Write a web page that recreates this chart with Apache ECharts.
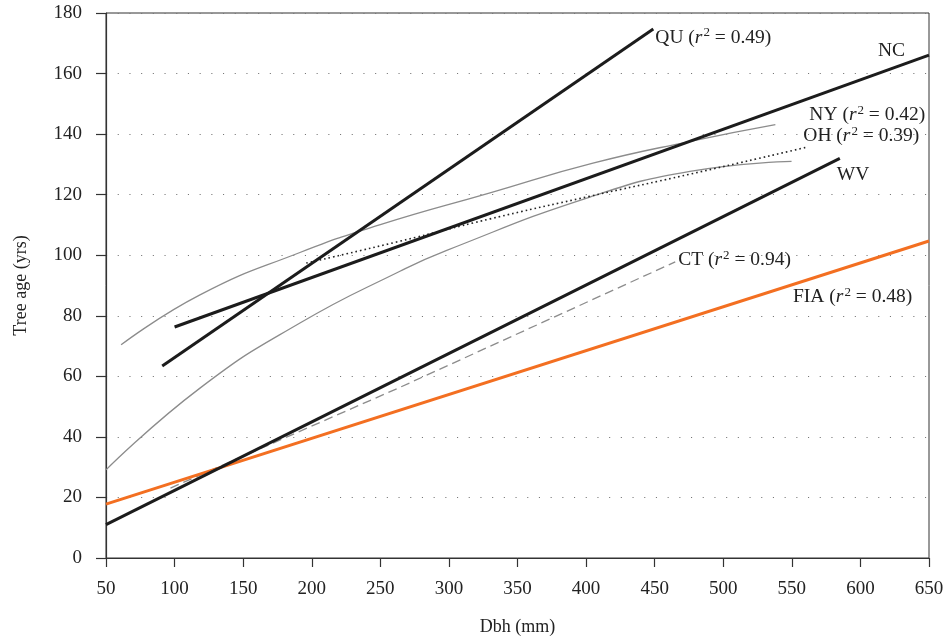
<!DOCTYPE html>
<html><head><meta charset="utf-8">
<script src="https://cdn.jsdelivr.net/npm/echarts@6/dist/echarts.min.js"></script>
<style>html,body{margin:0;padding:0;background:#fff}#c{width:947px;height:642px}</style>
</head><body><div id="c"></div>
<script>
// ---- data ----
const xMin = 50, xMax = 650, xStep = 50;
const yMin = 0, yMax = 180, yStep = 20;

const fiaX = [50, 650];            const fiaY = [17.8, 104.7];
const wvX  = [50, 585];            const wvY  = [11, 132];
const ncX  = [100, 650];           const ncY  = [76.3, 166.1];
const quX  = [91, 449];            const quY  = [63.4, 174.7];
const ctX  = [97, 264, 465];       const ctY  = [23.1, 56.3, 97.8];
const nyX  = [61, 118.5, 191.4, 250, 330, 405, 476, 538];
const nyY  = [70.4, 86.9, 100.9, 110.1, 120.6, 130.4, 137.6, 143.1];
const grX  = [50, 118.5, 191.4, 264.3, 298.4, 402.8, 475.7, 549.8];
const grY  = [29.1, 56.1, 77.6, 94.7, 101.6, 119.2, 127.7, 131];
const ohX  = [196, 264, 330, 403, 476, 562];
const ohY  = [97.4, 104.6, 112, 119.5, 126.8, 135.8];

const labQU = ['QU', '0.49'];
const labNC = ['NC', null];
const labNY = ['NY', '0.42'];
const labOH = ['OH', '0.39'];
const labWV = ['WV', null];
const labCT = ['CT', '0.94'];
const labFIA = ['FIA', '0.48'];

// ---- build ----
const SERIF = "'Liberation Serif', 'DejaVu Serif', serif";
const zip = (xs, ys) => xs.map((v, i) => [v, ys[i]]);
const fmt = l => l[1] === null ? `{n|${l[0]}}` : `{n|${l[0]} (}{i|r}{s|2}{n| = ${l[1]})}`;
const FS = 19.5;
const rich = {
  n: {fontSize: FS, fontFamily: SERIF, color: '#222', lineHeight: 22},
  i: {fontSize: FS, fontFamily: SERIF, color: '#222', fontStyle: 'italic', lineHeight: 22},
  s: {fontSize: 13, fontFamily: SERIF, color: '#222', verticalAlign: 'top', lineHeight: 13, padding: [0, 0, 0, 1]}
};
function endMark(xs, ys, lab, off) {
  if (!lab) return undefined;
  const k = xs.length - 1;
  return {
    silent: true, animation: false,
    symbol: 'circle', symbolSize: 1,
    itemStyle: {color: 'rgba(0,0,0,0)'},
    label: {show: true, position: 'inside', align: 'left', verticalAlign: 'middle',
            offset: off, formatter: fmt(lab), rich: rich},
    data: [{coord: [xs[k], ys[k]]}]
  };
}
function line(name, xs, ys, style, smooth, lab, off, z) {
  return {
    name, type: 'line', data: zip(xs, ys), symbol: 'none', smooth: smooth,
    lineStyle: style, z: z || 2, silent: true,
    markPoint: endMark(xs, ys, lab, off)
  };
}
const BLK = '#1c1c1c', GRY = '#8c8c8c', ORG = '#F36F21';

const chart = echarts.init(document.getElementById('c'), null, {renderer: 'canvas'});
chart.setOption({
  animation: false,
  backgroundColor: '#fff',
  textStyle: {fontFamily: SERIF},
  grid: {left: 106, right: 18, top: 13, bottom: 84, show: true,
         borderColor: '#333', borderWidth: 1, outerBoundsMode: 'none'},
  xAxis: {
    type: 'value', min: xMin, max: xMax, interval: xStep,
    name: 'Dbh (mm)', nameLocation: 'middle', nameGap: 60,
    nameTextStyle: {fontSize: 18, color: '#222', fontFamily: SERIF},
    axisLine: {show: true, lineStyle: {color: '#333', width: 1.2}},
    axisTick: {show: true, length: 9, lineStyle: {color: '#333', width: 1.2}},
    axisLabel: {fontSize: 19, color: '#222', margin: 22, fontFamily: SERIF},
    splitLine: {show: false}
  },
  yAxis: {
    type: 'value', min: yMin, max: yMax, interval: yStep,
    name: 'Tree age (yrs)', nameLocation: 'middle', nameGap: 76,
    nameTextStyle: {fontSize: 18, color: '#222', fontFamily: SERIF},
    axisLine: {show: true, lineStyle: {color: '#333', width: 1.2}},
    axisTick: {show: true, length: 10, lineStyle: {color: '#333', width: 1.2}},
    axisLabel: {fontSize: 19, color: '#222', margin: 24, fontFamily: SERIF},
    splitLine: {show: true, lineStyle: {color: '#777', width: 1.1, type: [1.1, 10.6]}}
  },
  series: [
    line('FIA', fiaX, fiaY, {color: ORG, width: 3}, false, labFIA, [-136, 56], 3),
    line('CT', ctX, ctY, {color: GRY, width: 1.3, type: [9, 5]}, false, labCT, [3, -2]),
    line('NY', nyX, nyY, {color: GRY, width: 1.3}, true, labNY, [34, -10]),
    line('gray', grX, grY, {color: GRY, width: 1.3}, true, null, null),
    line('OH', ohX, ohY, {color: '#222', width: 1.6, type: [1.6, 3]}, true, labOH, [-5, -11]),
    line('WV', wvX, wvY, {color: BLK, width: 3}, false, labWV, [-3, 17], 4),
    line('NC', ncX, ncY, {color: BLK, width: 3}, false, labNC, [-51, -4], 4),
    line('QU', quX, quY, {color: BLK, width: 3}, false, labQU, [2, 8.5], 4)
  ]
});
</script></body></html>
